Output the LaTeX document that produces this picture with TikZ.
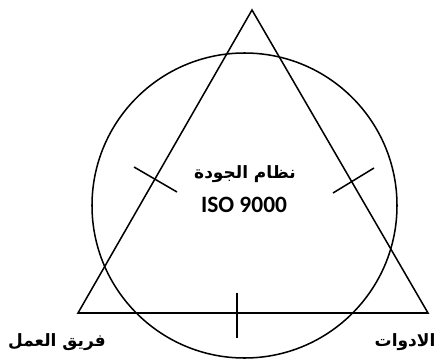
\documentclass[tikz,border=0pt]{standalone}
\usepackage{fontspec}
\setmainfont{Carlito}
\newfontfamily\arabicfont[Script=Arabic]{DejaVu Sans}
\TeXXeTstate=1
\begin{document}
\begin{tikzpicture}[x=0.03cm, y=-0.03cm, line width=1.3pt,
  label ar/.style={font=\arabicfont\bfseries\fontsize{14.5}{18}\selectfont, inner sep=0pt},
  label iso/.style={font=\bfseries\fontsize{20}{24}\selectfont, inner sep=0pt}]
\useasboundingbox (0,0) rectangle (441,362);
% === corners of the triangle ===
\coordinate (apex) at (252,10);
\coordinate (team) at (78,313);
\coordinate (tools) at (428,313);
\draw (apex) -- (tools) -- (team) -- cycle;
% === circle ===
\coordinate (centre) at (244.5,205.5);
\draw (centre) circle (152.5);
% === tick marks ===
\coordinate (tl1) at (134,167); \coordinate (tl2) at (177,192);
\coordinate (tr1) at (333,193); \coordinate (tr2) at (374,168);
\coordinate (tb1) at (237,293); \coordinate (tb2) at (237,338);
\draw (tl1) -- (tl2);
\draw (tr1) -- (tr2);
\draw (tb1) -- (tb2);
% === texts ===
\node[label ar] (system) at (245,174) {\beginR نظام الجودة\endR};
\node[label iso] (iso) at (244,205) {ISO 9000};
\node[label ar] (teamlbl) at (57,342) {\beginR فريق العمل\endR};
\node[label ar] (toolslbl) at (405,342) {\beginR الادوات\endR};
\end{tikzpicture}
\end{document}
